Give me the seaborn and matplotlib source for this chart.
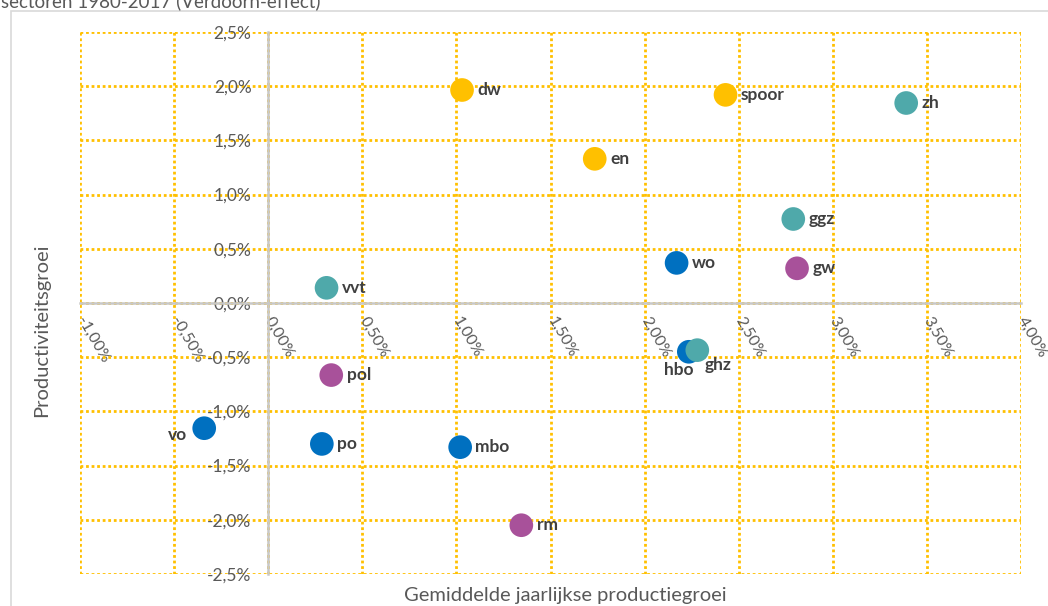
import numpy as np
import pandas as pd
import matplotlib.pyplot as plt
import seaborn as sns
from matplotlib.patches import Rectangle

# Data (percentages)
sectors = ['dw', 'spoor', 'zh', 'en', 'ggz', 'wo', 'gw', 'vvt',
           'hbo', 'ghz', 'pol', 'vo', 'po', 'mbo', 'rm']
prod_growth = [1.03, 2.43, 3.39, 1.735, 2.79, 2.17, 2.81, 0.31,
               2.235, 2.28, 0.335, -0.34, 0.285, 1.02, 1.345]
productivity = [1.965, 1.92, 1.845, 1.33, 0.775, 0.37, 0.32, 0.14,
                -0.45, -0.435, -0.665, -1.155, -1.30, -1.33, -2.05]
group = ['geel', 'geel', 'teal', 'geel', 'teal', 'blauw', 'paars', 'teal',
         'blauw', 'teal', 'paars', 'blauw', 'blauw', 'blauw', 'paars']
palette = {'geel': '#FFC000', 'teal': '#4FA9AA', 'blauw': '#0070C0', 'paars': '#A8519A'}

# label offsets (points) per sector
offsets = {'vo': (-12, -5), 'hbo': (-18, -13), 'ghz': (5, -11)}

df = pd.DataFrame({'sector': sectors, 'x': prod_growth, 'y': productivity, 'groep': group})

sns.set_style('white')
plt.rcParams['font.family'] = ['Lato', 'DejaVu Sans']

fig = plt.figure(figsize=(10.48, 6.06), dpi=100)
ax = fig.add_axes([80 / 1048, 1 - 574 / 606, 941 / 1048, 542 / 606])

sns.scatterplot(data=df, x='x', y='y', hue='groep', palette=palette, s=290,
                edgecolor='none', legend=False, ax=ax, zorder=5, clip_on=False)

for _, r in df.iterrows():
    dx, dy = offsets.get(r['sector'], (11, 0))
    ha = 'right' if r['sector'] == 'vo' else 'left'
    ax.annotate(r['sector'], (r['x'], r['y']), xytext=(dx, dy), textcoords='offset points',
                ha=ha, va='center', fontsize=12.5, fontweight='bold', color='#404040', zorder=6)

ax.set_xlim(-1, 4)
ax.set_ylim(-2.5, 2.5)
ax.set_xticks(np.arange(-1, 4.01, 0.5))
ax.set_yticks(np.arange(-2.5, 2.51, 0.5))
ax.set_xticklabels([f'{v:.2f}%'.replace('.', ',') for v in np.arange(-1, 4.01, 0.5)])
ax.set_yticklabels([f'{v:.1f}%'.replace('.', ',') for v in np.arange(-2.5, 2.51, 0.5)])

ax.grid(True, color='#FFC000', linestyle=(0, (1, 1)), linewidth=2.0)
ax.set_axisbelow(True)
for gl in ax.get_xgridlines() + ax.get_ygridlines():
    gl.set_clip_on(False)

for s in ['top', 'right']:
    ax.spines[s].set_visible(False)
ax.spines['left'].set_position(('data', 0))
ax.spines['bottom'].set_position(('data', 0))
for s in ['left', 'bottom']:
    ax.spines[s].set_color('#C8C8C8')
    ax.spines[s].set_linewidth(1.8)
    ax.spines[s].set_zorder(2)

ax.tick_params(axis='both', length=0, labelsize=12.5, labelcolor='#595959')
ax.tick_params(axis='x', labelsize=11.5)
ax.tick_params(axis='y', pad=12)
ax.tick_params(axis='x', pad=11)
for lab in ax.get_xticklabels():
    lab.set_rotation(-60)
    lab.set_ha('left')
    lab.set_va('center')
    lab.set_rotation_mode('anchor')

ax.set_xlabel('')
ax.set_ylabel('')
fig.text(565 / 1048, 1 - 596 / 606, 'Gemiddelde jaarlijkse productiegroei', ha='center', va='center',
         fontsize=14.5, color='#595959')
fig.text(42 / 1048, 1 - 330 / 606, 'Productiviteitsgroei', ha='center', va='center', rotation=90,
         fontsize=14.5, color='#595959')

# title, cut off at the top of the image
fig.text(1 / 1048, 1 - 1 / 606, 'sectoren 1980-2017 (Verdoorn-effect)', ha='left', va='center',
         fontsize=13.5, color='#595959')

# chart frame
fig.patches.append(Rectangle((11 / 1048, -0.05), 1.1, 1 - 11 / 606 + 0.05, transform=fig.transFigure,
                             fill=False, edgecolor='#D9D9D9', linewidth=1.2))

fig.savefig('out.png', dpi=100)
